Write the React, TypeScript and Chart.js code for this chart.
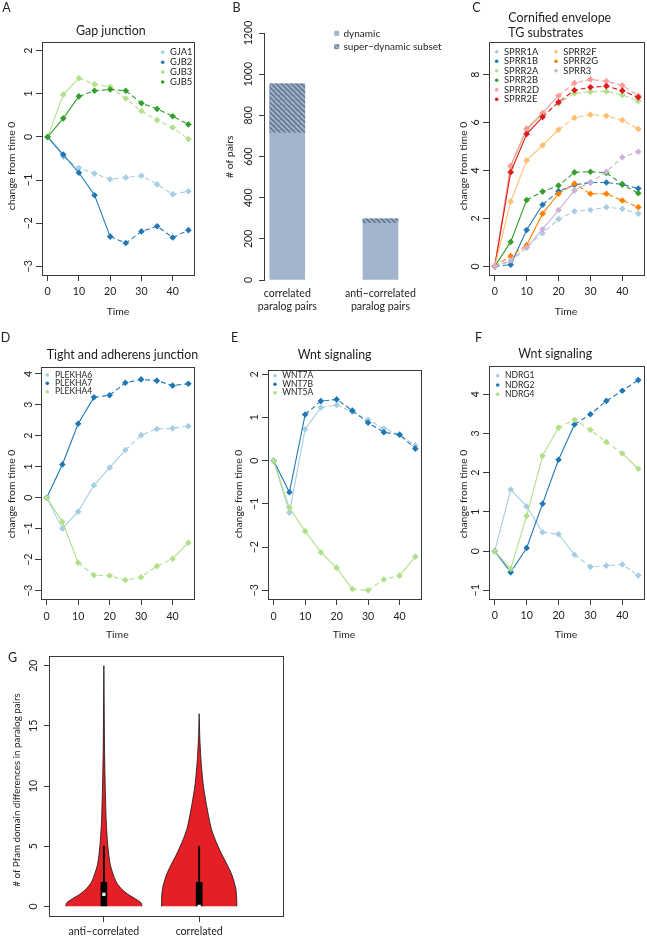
import React, { useEffect, useRef } from 'react';
import { Chart, registerables } from 'chart.js';

Chart.register(...registerables);

const FONT = 'Lato, "Open Sans", sans-serif';
const INK = '#1e1e1e';
const AXIS = '#3a3a3a';

// ---------- shared ----------
const timePoints = [0, 5, 10, 15, 20, 25, 30, 35, 40, 45];
const timeTicks = [0, 10, 20, 30, 40];

const LBLUE = '#a6cee3';
const BLUE = '#1f78b4';
const LGREEN = '#b2df8a';
const GREEN = '#33a02c';
const PINK = '#fb9a99';
const RED = '#e31a1c';
const LORANGE = '#fdbf6f';
const ORANGE = '#ff7f00';
const LPURPLE = '#cab2d6';

// ---------- A: Gap junction ----------
const gapGenes = ['GJA1', 'GJB2', 'GJB3', 'GJB5'];
const GJA1 = [0, -0.46, -0.72, -0.85, -0.98, -0.94, -0.9, -1.1, -1.33, -1.26];
const GJB2 = [0, -0.41, -0.83, -1.35, -2.31, -2.46, -2.19, -2.07, -2.33, -2.16];
const GJB3 = [0, 0.98, 1.36, 1.22, 1.16, 0.89, 0.6, 0.39, 0.22, -0.05];
const GJB5 = [0, 0.43, 0.94, 1.07, 1.1, 1.07, 0.78, 0.65, 0.48, 0.29];
const gapTicks = [-3, -2, -1, 0, 1, 2];

// ---------- B: paralog pairs ----------
const pairCategories = [['correlated', 'paralog pairs'], ['anti\u2212correlated', 'paralog pairs']];
const dynamicPairs = [953, 297];
const superDynamicPairs = [236, 18];
const pairTicks = [0, 200, 400, 600, 800, 1000, 1200];

// ---------- C: Cornified envelope ----------
const sprrGenes = ['SPRR1A', 'SPRR1B', 'SPRR2A', 'SPRR2B', 'SPRR2D', 'SPRR2E', 'SPRR2F', 'SPRR2G', 'SPRR3'];
const SPRR1A = [0, 0.2, 0.8, 1.38, 1.97, 2.3, 2.35, 2.47, 2.4, 2.2];
const SPRR1B = [0, 0.07, 1.52, 2.57, 3.13, 3.4, 3.5, 3.5, 3.42, 3.25];
const SPRR2A = [0, 4.15, 5.7, 6.35, 6.8, 7.22, 7.28, 7.3, 7.15, 6.9];
const SPRR2B = [0, 1.02, 2.77, 3.12, 3.37, 3.92, 3.95, 3.9, 3.42, 3.05];
const SPRR2D = [0, 4.2, 5.75, 6.4, 7.12, 7.65, 7.8, 7.72, 7.55, 7.12];
const SPRR2E = [0, 3.93, 5.52, 6.23, 6.85, 7.35, 7.47, 7.52, 7.33, 7.05];
const SPRR2F = [0, 2.7, 4.42, 5.05, 5.7, 6.2, 6.33, 6.28, 6.1, 5.73];
const SPRR2G = [0, 0.43, 0.88, 2.2, 3.03, 3.45, 3.03, 3.03, 2.75, 2.47];
const SPRR3 = [0, 0.25, 0.78, 1.55, 2.35, 3.17, 3.5, 3.95, 4.55, 4.78];
const sprrTicks = [0, 2, 4, 6, 8];

// ---------- D: Tight and adherens junction ----------
const plekhaGenes = ['PLEKHA6', 'PLEKHA7', 'PLEKHA4'];
const PLEKHA6 = [0, -0.99, -0.45, 0.4, 0.97, 1.54, 2.02, 2.22, 2.24, 2.31];
const PLEKHA7 = [0, 1.07, 2.39, 3.24, 3.31, 3.71, 3.82, 3.78, 3.62, 3.68];
const PLEKHA4 = [0, -0.78, -2.1, -2.5, -2.52, -2.66, -2.57, -2.21, -1.97, -1.45];
const plekhaTicks = [-3, -2, -1, 0, 1, 2, 3, 4];

// ---------- E: Wnt signaling ----------
const wntGenes = ['WNT7A', 'WNT7B', 'WNT5A'];
const WNT7A = [0, -1.2, 0.73, 1.23, 1.29, 1.13, 0.95, 0.74, 0.61, 0.35];
const WNT7B = [0, -0.73, 1.07, 1.38, 1.42, 1.16, 0.88, 0.66, 0.6, 0.28];
const WNT5A = [0, -1.09, -1.63, -2.12, -2.48, -2.97, -3.0, -2.75, -2.66, -2.22];
const wntTicks = [-3, -2, -1, 0, 1, 2];

// ---------- F: Wnt signaling (NDRG) ----------
const ndrgGenes = ['NDRG1', 'NDRG2', 'NDRG4'];
const NDRG1 = [0, 1.57, 1.14, 0.48, 0.43, -0.09, -0.4, -0.37, -0.34, -0.62];
const NDRG2 = [0, -0.54, 0.08, 1.21, 2.33, 3.23, 3.49, 3.83, 4.09, 4.36];
const NDRG4 = [0, -0.45, 0.9, 2.43, 3.15, 3.35, 3.09, 2.78, 2.49, 2.1];
const ndrgTicks = [-1, 0, 1, 2, 3, 4];

// ---------- G: Pfam domain differences (violins) ----------
const violinCategories = ['anti\u2212correlated', 'correlated'];
const antiLevels = [0, 0.3, 0.7, 1, 1.5, 2, 2.5, 3.5, 5, 7, 10, 13, 16, 20];
const antiHalfWidths = [0.4, 0.39, 0.316, 0.253, 0.179, 0.132, 0.105, 0.066, 0.042, 0.025, 0.014, 0.007, 0.004, 0];
const corrLevels = [0, 0.5, 1.5, 2.6, 3.5, 4.3, 5.4, 6.5, 8, 10, 12, 14, 16];
const corrHalfWidths = [0.395, 0.395, 0.384, 0.344, 0.292, 0.239, 0.176, 0.126, 0.087, 0.045, 0.021, 0.007, 0];
const boxQ1 = [0, 0];
const boxQ3 = [2, 2];
const boxMedian = [1, 0];
const whiskerTop = [5, 5];
const pfamTicks = [0, 5, 10, 15, 20];

// ---------- drawing helpers ----------
const W = 647;
const H = 938;
const TICK = 10.6;
const LAB = 10.4;

function fmtNum(v: number) {
  return v < 0 ? '\u2212' + Math.abs(v) : String(v);
}

function drawTxt(ctx: CanvasRenderingContext2D, t: any) {
  ctx.save();
  ctx.translate(t.x, t.y);
  if (t.rot) ctx.rotate(-Math.PI / 2);
  ctx.font = `${t.size}px ${FONT}`;
  ctx.textAlign = t.align || 'center';
  ctx.textBaseline = 'middle';
  ctx.fillStyle = INK;
  ctx.fillText(t.t, 0, 0);
  ctx.restore();
}

function makeDecor(d: any) {
  return {
    id: 'decor',
    afterDraw(chart: any) {
      const ctx = chart.ctx as CanvasRenderingContext2D;
      const ca = chart.chartArea;
      ctx.save();
      if (d.frame) {
        ctx.strokeStyle = AXIS;
        ctx.lineWidth = 1;
        ctx.strokeRect(Math.round(ca.left) + 0.5, Math.round(ca.top) + 0.5, Math.round(ca.right - ca.left), Math.round(ca.bottom - ca.top));
      }
      if (d.yLabelX != null) {
        const s = chart.scales.y;
        for (const tk of s.ticks) {
          drawTxt(ctx, { t: fmtNum(tk.value), x: d.yLabelX, y: s.getPixelForValue(tk.value), size: d.tickSize || TICK, rot: true });
        }
      }
      if (d.xLabelY != null) {
        const s = chart.scales.x;
        s.ticks.forEach((tk: any, i: number) => {
          const lines = d.xLabels ? [].concat(d.xLabels[i]) : [fmtNum(tk.value)];
          lines.forEach((ln: string, j: number) =>
            drawTxt(ctx, { t: ln, x: s.getPixelForValue(tk.value), y: d.xLabelY + j * (d.xLineH || 0), size: d.tickSize || TICK })
          );
        });
      }
      (d.texts || []).forEach((t: any) => drawTxt(ctx, t));
      if (d.legend) {
        const L = d.legend;
        chart.data.datasets.forEach((ds: any, i: number) => {
          const col = L.perCol ? Math.floor(i / L.perCol) : 0;
          const row = L.perCol ? i % L.perCol : i;
          const y = L.y + row * L.dy;
          const mx = L.mx + col * (L.colDx || 0);
          const tx = L.tx + col * (L.colDx || 0);
          ctx.fillStyle = ds.backgroundColor;
          if (L.square) {
            ctx.fillRect(mx - 2.5, y - 2.5, 5, 5);
          } else {
            ctx.beginPath();
            ctx.arc(mx, y, 1.8, 0, Math.PI * 2);
            ctx.fill();
          }
          drawTxt(ctx, { t: ds.label, x: tx, y, size: L.size, align: 'left' });
        });
      }
      ctx.restore();
    },
  };
}

function pad(box: number[]) {
  return { left: box[0], top: box[1], right: W - box[2], bottom: H - box[3] };
}

function axisBase(ticks: number[], min: number, max: number, drawTicks: boolean, tickLength = 6, border = false) {
  return {
    type: 'linear',
    min,
    max,
    offset: false,
    afterBuildTicks: (s: any) => {
      s.ticks = ticks.map((v) => ({ value: v }));
    },
    ticks: { display: false },
    grid: {
      display: drawTicks,
      offset: false,
      drawOnChartArea: false,
      drawTicks: true,
      tickLength,
      color: AXIS,
      lineWidth: 1,
    },
    border: { display: border, color: AXIS, width: 1 },
  };
}

function lineChartConfig(p: any) {
  const n = p.names.length;
  return {
    type: 'line',
    data: {
      datasets: p.names.map((name: string, i: number) => ({
        label: name,
        data: timePoints.map((t, j) => ({ x: t, y: p.values[i][j] })),
        borderColor: p.colors[i],
        backgroundColor: p.colors[i],
        pointBackgroundColor: p.colors[i],
        pointBorderColor: p.colors[i],
        pointBorderWidth: 0,
        pointStyle: 'rectRot',
        pointRadius: 3.3,
        borderWidth: 1.1,
        tension: 0,
        fill: false,
        order: n - i,
        segment: {
          borderDash: (c: any) => (Math.abs(c.p1.y - c.p0.y) > 15 ? [] : [5, 3]),
        },
      })),
    },
    options: {
      responsive: false,
      animation: false,
      events: [],
      layout: { padding: pad(p.box), autoPadding: false },
      plugins: { legend: { display: false }, title: { display: false }, tooltip: { enabled: false } },
      scales: {
        x: { ...axisBase(timeTicks, -1.8, 46.8, true), afterFit: (s: any) => { s.height = 0; } },
        y: { ...axisBase(p.yTicks, p.yMin, p.yMax, true), afterFit: (s: any) => { s.width = 0; } },
      },
    },
    plugins: [makeDecor(p.decor)],
  };
}

function makeHatch() {
  const c = document.createElement('canvas');
  const s = 5;
  c.width = s;
  c.height = s;
  const g = c.getContext('2d')!;
  g.fillStyle = '#687b93';
  g.fillRect(0, 0, s, s);
  g.strokeStyle = '#a5b8d0';
  g.lineWidth = 1.7;
  for (const k of [-s, 0, s]) {
    g.beginPath();
    g.moveTo(k, 0);
    g.lineTo(k + s, s);
    g.stroke();
  }
  return g.createPattern(c, 'repeat');
}

function barChartConfig() {
  const hatch = makeHatch();
  const box = [264, 33, 427, 280];
  return {
    type: 'bar',
    data: {
      datasets: [
        {
          label: 'dynamic',
          data: pairCategories.map((_, i) => ({ x: i, y: dynamicPairs[i] })),
          backgroundColor: '#a2b5cd',
          barThickness: 35,
          grouped: false,
          order: 2,
        },
        {
          label: 'super\u2212dynamic subset',
          data: pairCategories.map((_, i) => ({ x: i, y: [dynamicPairs[i] - superDynamicPairs[i], dynamicPairs[i]] })),
          backgroundColor: hatch,
          barThickness: 35,
          grouped: false,
          order: 1,
        },
      ],
    },
    options: {
      responsive: false,
      animation: false,
      events: [],
      layout: { padding: pad(box), autoPadding: false },
      plugins: { legend: { display: false }, title: { display: false }, tooltip: { enabled: false } },
      scales: {
        x: { ...axisBase([0, 1], -0.25, 1.5, false), afterFit: (s: any) => { s.height = 0; } },
        y: { ...axisBase(pairTicks, 0, 1200, true, 5, true), afterFit: (s: any) => { s.width = 0; } },
      },
    },
    plugins: [
      makeDecor({
        frame: false,
        yLabelX: 248.3,
        xLabelY: 293.3,
        xLineH: 13.4,
        xLabels: pairCategories,
        texts: [
          { t: 'B', x: 236.5, y: 7.5, size: 12.5 },
          { t: '# of pairs', x: 230, y: 156.7, size: LAB, rot: true },
        ],
        legend: { mx: 336.7, tx: 343.5, y: 33.3, dy: 13.4, size: 10, square: true },
      }),
    ],
  };
}

function violinOutline(center: number, levels: number[], half: number[]) {
  const pts: any[] = [];
  for (let k = 0; k < levels.length; k++) pts.push({ x: center - half[k], y: levels[k] });
  for (let k = levels.length - 1; k >= 0; k--) pts.push({ x: center + half[k], y: levels[k] });
  return pts;
}

function violinChartConfig() {
  const box = [49, 656, 283, 916];
  const violinStyle = {
    type: 'line',
    showLine: true,
    fill: 'shape',
    backgroundColor: '#e41f26',
    borderColor: '#111',
    borderWidth: 0.8,
    pointRadius: 0,
    tension: 0.25,
    order: 4,
  };
  return {
    type: 'bar',
    data: {
      datasets: [
        { ...violinStyle, label: violinCategories[0], data: violinOutline(1, antiLevels, antiHalfWidths) },
        { ...violinStyle, label: violinCategories[1], data: violinOutline(2, corrLevels, corrHalfWidths) },
        {
          label: 'whisker',
          data: violinCategories.map((_, i) => ({ x: i + 1, y: [boxQ3[i], whiskerTop[i]] })),
          backgroundColor: '#000',
          barThickness: 1.2,
          grouped: false,
          order: 3,
        },
        {
          label: 'box',
          data: violinCategories.map((_, i) => ({ x: i + 1, y: [boxQ1[i], boxQ3[i]] })),
          backgroundColor: '#000',
          barThickness: 6,
          grouped: false,
          order: 2,
        },
        {
          type: 'line',
          label: 'median',
          showLine: false,
          data: violinCategories.map((_, i) => ({ x: i + 1, y: boxMedian[i] })),
          pointStyle: 'rect',
          pointRadius: 2.3,
          pointBackgroundColor: '#fff',
          pointBorderWidth: 0,
          order: 1,
        },
      ],
    },
    options: {
      responsive: false,
      animation: false,
      events: [],
      layout: { padding: pad(box), autoPadding: false },
      plugins: { legend: { display: false }, title: { display: false }, tooltip: { enabled: false } },
      scales: {
        x: { ...axisBase([1, 2], 0.424, 2.88, true, 6), afterFit: (s: any) => { s.height = 0; } },
        y: { ...axisBase(pfamTicks, -0.8, 20.8, true, 5), afterFit: (s: any) => { s.width = 0; } },
      },
    },
    plugins: [
      makeDecor({
        frame: true,
        yLabelX: 33.3,
        xLabelY: 931.5,
        xLabels: violinCategories,
        texts: [
          { t: 'G', x: 12.5, y: 657.5, size: 12.5 },
          { t: '# of Pfam domain differences in paralog pairs', x: 16.7, y: 790, size: 9.8, rot: true },
        ],
      }),
    ],
  };
}

const TITLE = 12.4;

const panelA = {
  names: gapGenes,
  values: [GJA1, GJB2, GJB3, GJB5],
  colors: [LBLUE, BLUE, LGREEN, GREEN],
  yTicks: gapTicks,
  yMin: -3.2,
  yMax: 2.2,
  box: [42, 42, 194, 275],
  decor: {
    frame: true,
    yLabelX: 29,
    xLabelY: 291.7,
    texts: [
      { t: 'A', x: 6.5, y: 7.5, size: 12.5 },
      { t: 'Gap junction', x: 76, y: 31, size: TITLE, align: 'left' },
      { t: 'Time', x: 118, y: 311.7, size: LAB },
      { t: 'change from time 0', x: 11.7, y: 166, size: LAB, rot: true },
    ],
    legend: { mx: 162.7, tx: 170, y: 52.3, dy: 9.9, size: 9.4 },
  },
};

const panelC = {
  names: sprrGenes,
  values: [SPRR1A, SPRR1B, SPRR2A, SPRR2B, SPRR2D, SPRR2E, SPRR2F, SPRR2G, SPRR3],
  colors: [LBLUE, BLUE, LGREEN, GREEN, PINK, RED, LORANGE, ORANGE, LPURPLE],
  yTicks: sprrTicks,
  yMin: -0.36,
  yMax: 9.36,
  box: [489, 42, 644, 275],
  decor: {
    frame: true,
    yLabelX: 476,
    xLabelY: 291.7,
    texts: [
      { t: 'C', x: 476.5, y: 7.5, size: 12.5 },
      { t: 'Cornified envelope', x: 508.3, y: 18.3, size: TITLE, align: 'left' },
      { t: 'TG substrates', x: 508.3, y: 33.3, size: TITLE, align: 'left' },
      { t: 'Time', x: 566, y: 311.7, size: LAB },
      { t: 'change from time 0', x: 463.3, y: 166, size: LAB, rot: true },
    ],
    legend: { mx: 496.7, tx: 504, y: 51.7, dy: 9.52, size: 9.4, perCol: 6, colDx: 59.3 },
  },
};

const panelD = {
  names: plekhaGenes,
  values: [PLEKHA6, PLEKHA7, PLEKHA4],
  colors: [LBLUE, BLUE, LGREEN],
  yTicks: plekhaTicks,
  yMin: -3.27,
  yMax: 4.22,
  box: [41, 367, 194, 599],
  decor: {
    frame: true,
    yLabelX: 28.3,
    xLabelY: 616.7,
    texts: [
      { t: 'D', x: 5.5, y: 337.5, size: 12.5 },
      { t: 'Tight and adherens junction', x: 46.7, y: 355, size: TITLE, align: 'left' },
      { t: 'Time', x: 117.3, y: 635, size: LAB },
      { t: 'change from time 0', x: 11.7, y: 494, size: LAB, rot: true },
    ],
    legend: { mx: 47.3, tx: 55, y: 375, dy: 8.35, size: 8.5 },
  },
};

const panelE = {
  names: wntGenes,
  values: [WNT7A, WNT7B, WNT5A],
  colors: [LBLUE, BLUE, LGREEN],
  yTicks: wntTicks,
  yMin: -3.2,
  yMax: 2.1,
  box: [268, 370, 421, 599],
  decor: {
    frame: true,
    yLabelX: 255,
    xLabelY: 616.7,
    texts: [
      { t: 'E', x: 234.5, y: 337.5, size: 12.5 },
      { t: 'Wnt signaling', x: 297.7, y: 355, size: TITLE, align: 'left' },
      { t: 'Time', x: 344, y: 635, size: LAB },
      { t: 'change from time 0', x: 238.3, y: 494, size: LAB, rot: true },
    ],
    legend: { mx: 275, tx: 282.3, y: 375.7, dy: 8.5, size: 8.5 },
  },
};

const panelF = {
  names: ndrgGenes,
  values: [NDRG1, NDRG2, NDRG4],
  colors: [LBLUE, BLUE, LGREEN],
  yTicks: ndrgTicks,
  yMin: -1.22,
  yMax: 4.72,
  box: [489, 366, 644, 599],
  decor: {
    frame: true,
    yLabelX: 475.5,
    xLabelY: 615.5,
    texts: [
      { t: 'F', x: 478.5, y: 337.5, size: 12.5 },
      { t: 'Wnt signaling', x: 518.3, y: 354, size: TITLE, align: 'left' },
      { t: 'Time', x: 566, y: 635, size: LAB },
      { t: 'change from time 0', x: 463.3, y: 494, size: LAB, rot: true },
    ],
    legend: { mx: 497.7, tx: 505, y: 375.7, dy: 9.3, size: 8.5 },
  },
};

function ChartLayer({ make }: { make: () => any }) {
  const ref = useRef<HTMLCanvasElement>(null);
  useEffect(() => {
    const chart = new Chart(ref.current as HTMLCanvasElement, make() as any);
    return () => chart.destroy();
  }, []);
  return (
    <canvas
      ref={ref}
      width={W}
      height={H}
      style={{ position: 'absolute', left: 0, top: 0, width: W, height: H }}
    />
  );
}

export default function App() {
  return (
    <div style={{ position: 'absolute', left: 0, top: 0, width: W, height: H, background: '#fff', overflow: 'hidden' }}>
      <ChartLayer make={() => lineChartConfig(panelA)} />
      <ChartLayer make={barChartConfig} />
      <ChartLayer make={() => lineChartConfig(panelC)} />
      <ChartLayer make={() => lineChartConfig(panelD)} />
      <ChartLayer make={() => lineChartConfig(panelE)} />
      <ChartLayer make={() => lineChartConfig(panelF)} />
      <ChartLayer make={violinChartConfig} />
    </div>
  );
}
